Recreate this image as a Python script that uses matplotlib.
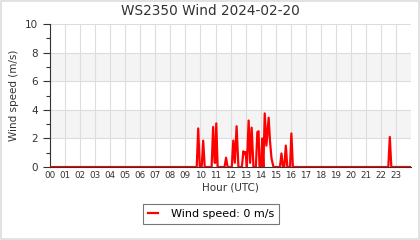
import numpy as np
import matplotlib.pyplot as plt
from matplotlib.patches import Rectangle

plt.rcParams.update({
    "font.family": "DejaVu Sans",
})

# wind speed samples (hour of day UTC, m/s)
hours = [0.0, 9.75, 9.85, 9.95, 10.08, 10.18, 10.28, 10.74, 10.84, 10.94, 10.98, 11.05, 11.14,
         11.6, 11.7, 11.8, 12.08, 12.18, 12.28, 12.4, 12.52, 12.75, 12.85, 12.93, 13.0,
         13.08, 13.2, 13.3, 13.4, 13.52, 13.68, 13.78, 13.86, 13.92, 14.02, 14.1, 14.18,
         14.27, 14.38, 14.53, 14.62, 14.72, 14.85, 15.28, 15.38, 15.48, 15.57, 15.67, 15.77,
         15.95, 16.04, 16.14, 22.48, 22.58, 22.68, 24.0]
speed = [0.0, 0.0, 2.7, 0.0, 0.0, 1.85, 0.0, 0.0, 2.8, 0.3, 0.3, 3.05, 0.0,
         0.0, 0.65, 0.0, 0.0, 1.85, 0.3, 2.85, 0.0, 0.0, 1.1, 0.9, 1.05,
         0.0, 3.25, 0.3, 2.75, 0.0, 0.0, 2.45, 2.5, 0.0, 0.0, 2.0, 0.0,
         3.75, 1.5, 3.45, 1.8, 0.6, 0.0, 0.0, 0.95, 0.0, 0.0, 1.5, 0.0,
         0.0, 2.35, 0.0, 0.0, 2.1, 0.0, 0.0]

hour_labels = ["{:02d}".format(h) for h in range(24)]
shaded_bands = [(2, 4), (6, 8)]

fig = plt.figure(figsize=(4.2, 2.4), dpi=100)
ax = fig.add_axes([0.119, 0.304, 0.86, 0.596])

# light border around the whole figure
fig.patches.append(Rectangle((0.002, 0.003), 0.995, 0.993, transform=fig.transFigure,
                             fill=False, edgecolor="#dddddd", linewidth=1.2))

for lo, hi in shaded_bands:
    ax.axhspan(lo, hi, color="#f4f4f4", zorder=0, linewidth=0)

ax.plot(hours, speed, color="red", linewidth=1.6, label="Wind speed: 0 m/s", zorder=3)

ax.set_xlim(0, 24)
ax.set_ylim(0, 10)
ax.set_xticks(range(24))
ax.set_xticklabels(hour_labels)
ax.set_yticks(range(0, 11, 2))
ax.set_yticks(range(1, 10, 2), minor=True)
ax.grid(True, which="major", color="#dddddd", linewidth=0.8, zorder=1)

ax.tick_params(axis="x", length=0, labelsize=6.3, pad=3, colors="#333333")
ax.tick_params(axis="y", which="major", length=5, labelsize=7.5, colors="#333333", width=0.8)
ax.tick_params(axis="y", which="minor", length=3, colors="#333333", width=0.8)

for side in ["top", "right"]:
    ax.spines[side].set_visible(False)
ax.spines["left"].set_color("#333333")
ax.spines["bottom"].set_color("#333333")
ax.spines["left"].set_linewidth(0.8)

# title is centred on the whole image, not on the axes
fig.text(0.5, 0.953, "WS2350 Wind 2024-02-20", fontsize=9.8, color="#333333",
         ha="center", va="center")
ax.set_xlabel("Hour (UTC)", fontsize=7.5, color="#333333", labelpad=2)
ax.set_ylabel("Wind speed (m/s)", fontsize=7.5, color="#333333", labelpad=4)

leg = ax.legend(loc="upper center", bbox_to_anchor=(0.446, -0.258), fontsize=8,
                frameon=True, fancybox=False, handlelength=0.9, borderpad=0.45,
                handletextpad=1.1, borderaxespad=0)
leg.get_frame().set_edgecolor("#555555")
leg.get_frame().set_linewidth(0.8)

fig.savefig("out.png", dpi=100)
